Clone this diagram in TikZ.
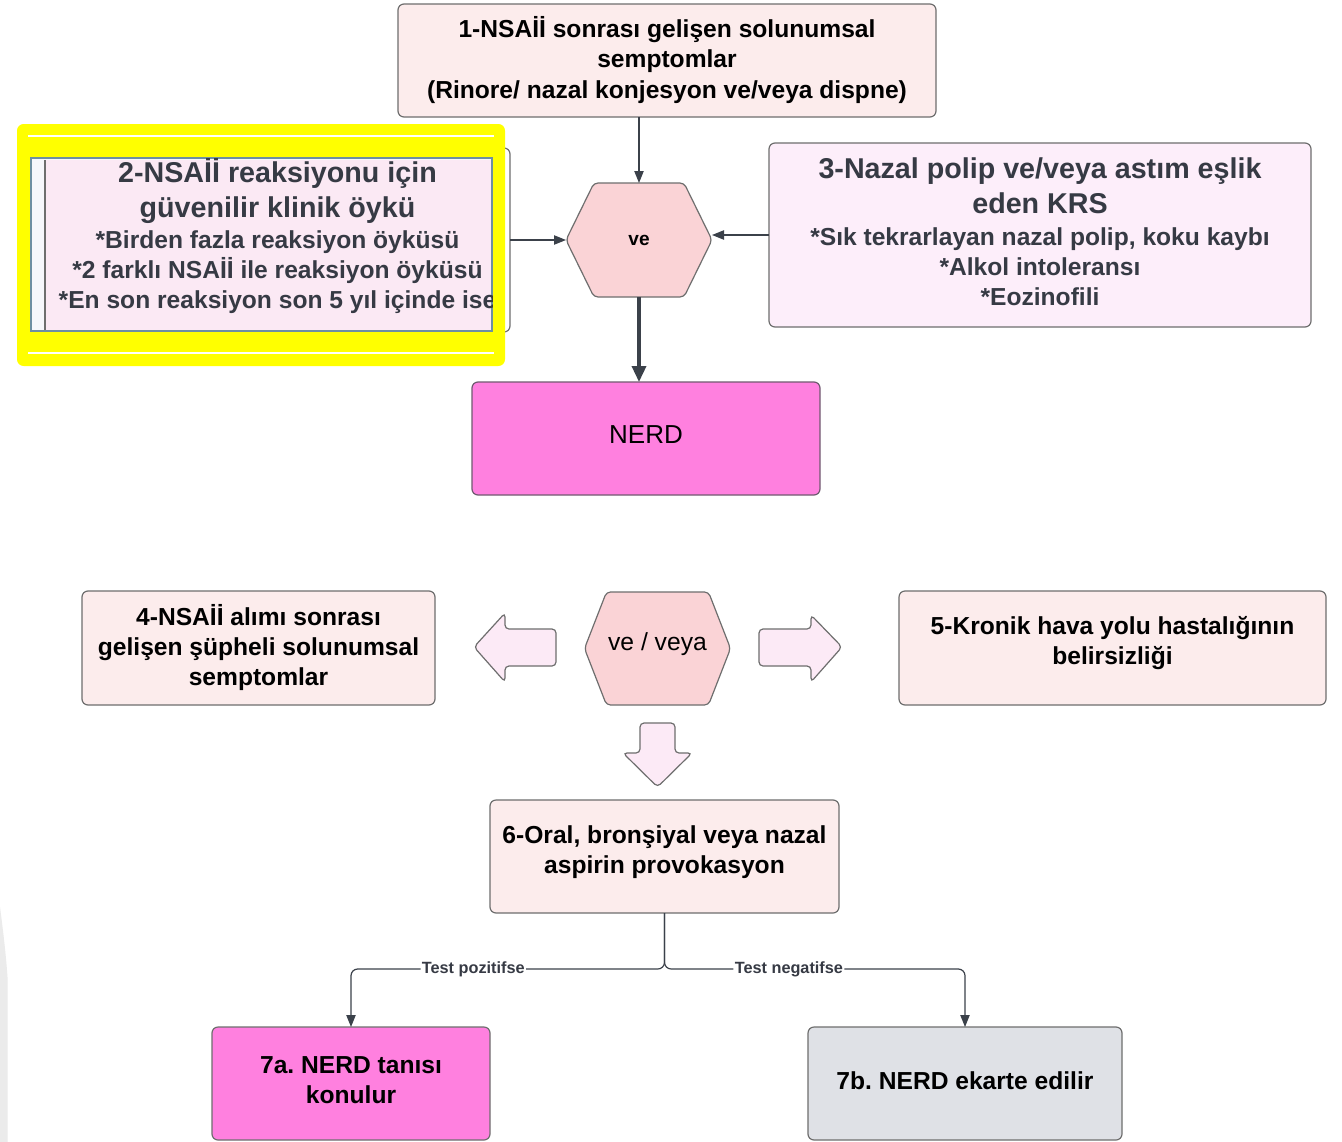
\documentclass[tikz,border=0pt]{standalone}
\usepackage{fontspec}
\setmainfont{Liberation Sans}
\usetikzlibrary{arrows.meta,calc}

\definecolor{boxpink}{HTML}{FCECEC}
\definecolor{lilac}{HTML}{FDEEFA}
\definecolor{panelpink}{HTML}{FBE9F4}
\definecolor{ghost}{HTML}{F6F7FB}
\definecolor{hexpink}{HTML}{FAD3D6}
\definecolor{arrowfill}{HTML}{FCEAF6}
\definecolor{magentabox}{HTML}{FF80DF}
\definecolor{greybox}{HTML}{DFE1E6}
\definecolor{edge}{HTML}{6E6E6E}
\definecolor{nerdedge}{HTML}{6F5A70}
\definecolor{wire}{HTML}{3B414A}
\definecolor{slate}{HTML}{363A44}
\definecolor{marker}{HTML}{FFFF00}
\definecolor{steel}{HTML}{6D8FA2}
\definecolor{sliver}{HTML}{EBEBEB}

\begin{document}
\frenchspacing
\begin{tikzpicture}[x=0.75pt, y=-0.75pt,
  sz/.style 2 args={minimum width=#1*0.75pt, minimum height=#2*0.75pt},
  box/.style={draw=edge, line width=0.9pt, rounded corners=4.5pt, inner sep=0pt, outer sep=0pt},
  txt/.style={align=center, inner sep=0pt, text=black,
    font=\bfseries\fontsize{18.45pt}{22.6pt}\selectfont},
  headtxt/.style={align=center, inner sep=0pt, text=slate,
    font=\bfseries\fontsize{21.5pt}{26.2pt}\selectfont},
  hexshape/.style={draw=edge, line width=0.9pt, fill=hexpink, rounded corners=3pt},
  blockarrow/.style={draw=edge, line width=0.9pt, fill=arrowfill, rounded corners=3pt},
  wirearrow/.style={draw=wire, line width=0.9pt, -{Triangle[length=9pt,width=7pt]}},
  thickarrow/.style={draw=wire, line width=2.6pt, -{Triangle[length=12pt,width=10.5pt]}},
  lbl/.style={fill=white, inner sep=1pt, text=slate,
    font=\bfseries\fontsize{12.2pt}{14pt}\selectfont}
]
\useasboundingbox (0,0) rectangle (1342,1142);
\fill[white] (0,0) rectangle (1342,1142);

% faint edge strip at the lower left
\fill[sliver] (0,907) .. controls (3,930) and (6,955) .. (7.5,977) -- (7.5,1142) -- (0,1142) -- cycle;

% ---------- upper part ----------
\node[box, fill=boxpink, sz={538}{113}] (b1) at (667,60.5) {};
\node[txt] (t1) at (667,60) {1-NSAİİ sonrası gelişen solunumsal\\semptomlar\\(Rinore/ nazal konjesyon ve/veya dispne)};

% box 2 with its highlight
\node[box, fill=white, sz={465}{184}] (b2) at (277.5,240) {};
\fill[marker, rounded corners=5pt] (17,124) rectangle (505,366);
\draw[white, line width=1.2pt] (28,136) -- (494,136);
\draw[white, line width=1.2pt] (28,353) -- (494,353);
\fill[ghost] (31,158) rectangle (492,331);
\fill[panelpink] (45,160) rectangle (492,331);
\draw[edge, line width=0.9pt] (45,160) -- (45,331);
\draw[steel, line width=1.5pt] (31,158) rectangle (492,331);
\begin{scope}
  \clip (31,158) rectangle (492,331);
  \node[headtxt] (t2a) at (277.5,191) {2-NSAİİ reaksiyonu için\\güvenilir klinik öykü};
  \node[txt, text=slate] (t2b) at (277.5,272) {*Birden fazla reaksiyon öyküsü\\*2 farklı NSAİİ ile reaksiyon öyküsü\\*En son reaksiyon son 5 yıl içinde ise};
\end{scope}

\node[box, fill=lilac, sz={542}{184}] (b3) at (1040,235) {};
\node[headtxt] (t3a) at (1040,185.5) {3-Nazal polip ve/veya astım eşlik\\eden KRS};
\node[txt, text=slate] (t3b) at (1040,267) {*Sık tekrarlayan nazal polip, koku kaybı\\*Alkol intoleransı\\*Eozinofili};

% "ve" hexagon
\coordinate (hA) at (639,240);
\draw[hexshape] ($(hA)+(-45,-57)$) -- ($(hA)+(45,-57)$) -- ($(hA)+(73,0)$)
  -- ($(hA)+(45,57)$) -- ($(hA)+(-45,57)$) -- ($(hA)+(-73,0)$) -- cycle;
\node[sz={146}{114}, inner sep=0pt, outer sep=0pt,
  font=\bfseries\fontsize{14.3pt}{17pt}\selectfont] (hexA) at (hA) {ve};

\node[box, draw=nerdedge, fill=magentabox, sz={348}{113}] (nerd) at (646,438.5) {};
\node[inner sep=0pt, font=\fontsize{19.5pt}{23pt}\selectfont] (tn) at (646,435) {NERD};

\draw[wirearrow] (b1.south -| hexA) -- (hexA.north);
\draw[wirearrow] (b2.east) -- (hexA.west);
\draw[wirearrow] (b3.west) -- (b3.west -| hexA.east);
\draw[thickarrow] (hexA.south) -- (hexA.south |- nerd.north);

% ---------- lower part ----------
\node[box, fill=boxpink, sz={353}{114}] (b4) at (258.5,648) {};
\node[txt] (t4) at (258.5,647.5) {4-NSAİİ alımı sonrası\\gelişen şüpheli solunumsal\\semptomlar};

\node[box, fill=boxpink, sz={427}{114}] (b5) at (1112.5,648) {};
\node[txt] (t5) at (1112.5,643) {5-Kronik hava yolu hastalığının\\belirsizliği};

% "ve / veya" hexagon
\coordinate (hB) at (657.5,648.5);
\draw[hexshape] ($(hB)+(-51,-56.5)$) -- ($(hB)+(51,-56.5)$) -- ($(hB)+(73,0)$)
  -- ($(hB)+(51,56.5)$) -- ($(hB)+(-51,56.5)$) -- ($(hB)+(-73,0)$) -- cycle;
\node[sz={146}{113}, inner sep=0pt, outer sep=0pt] (hexB) at (hB) {};
\node[inner sep=0pt, font=\fontsize{18.5pt}{22pt}\selectfont] (tB) at (657.5,644) {ve / veya};

% block arrows around the hexagon
\draw[blockarrow] (474,647) -- (505,613) -- (505,629) -- (556,629) -- (556,666)
  -- (505,666) -- (505,682) -- cycle;
\draw[blockarrow] (842,647) -- (811,615) -- (811,629) -- (759,629) -- (759,666)
  -- (811,666) -- (811,682) -- cycle;
\draw[blockarrow] (657.5,787) -- (623,753) -- (640,753) -- (640,723) -- (675,723)
  -- (675,753) -- (692,753) -- cycle;

\node[box, fill=boxpink, sz={349}{113}] (b6) at (664.5,856.5) {};
\node[txt] (t6) at (664.5,852.5) {6-Oral, bronşiyal veya nazal\\aspirin provokasyon};

\node[box, fill=magentabox, sz={278}{113}] (b7a) at (351,1083.5) {};
\node[txt] (t7a) at (351,1080) {7a. NERD tanısı\\konulur};
\node[box, fill=greybox, sz={314}{113}] (b7b) at (965,1083.5) {};
\node[txt] (t7b) at (965,1081) {7b. NERD ekarte edilir};

\coordinate (split) at ($(b6.south)+(0,56)$);
\draw[wirearrow, rounded corners=5pt] (b6.south) -- (split) -| (b7a.north)
  node[lbl, pos=0.305] {Test pozitifse};
\draw[wirearrow, rounded corners=5pt] (b6.south) -- (split) -| (b7b.north)
  node[lbl, pos=0.207] {Test negatifse};
\end{tikzpicture}
\end{document}
